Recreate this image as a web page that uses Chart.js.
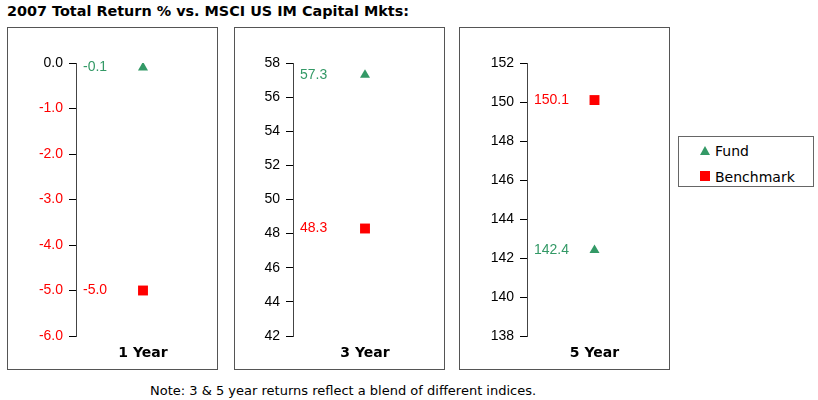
<!DOCTYPE html>
<html lang="en">
<head>
<meta charset="UTF-8" />
<script src="https://cdn.jsdelivr.net/npm/chart.js"></script>
<title>2007 Total Return</title>
<style>
  body { margin: 0; background: #fff; width: 818px; height: 400px; position: relative; overflow: hidden; font-family: "DejaVu Sans", Verdana, sans-serif; }
  #titulo { position: absolute; left: 7px; top: 3px; font-size: 14.4px; font-weight: bold; color: #000; white-space: nowrap; }
  .painel { position: absolute; top: 27px; width: 209px; height: 341px; border: 1px solid #555; }
  .painel div { position: relative; width: 209px; height: 341px; }
  #legenda { position: absolute; left: 678px; top: 136px; width: 134px; height: 49px; border: 1px solid #666; font-size: 14px; }
  .item { position: absolute; left: 36px; white-space: nowrap; line-height: 16px; }
  .tri { position: absolute; left: 21px; width: 0; height: 0; border-left: 5px solid transparent; border-right: 5px solid transparent; border-bottom: 9px solid #339966; }
  .quad { position: absolute; left: 21px; width: 10px; height: 10px; background: #ff0000; }
  #nota { position: absolute; left: 150px; top: 383px; font-size: 13px; white-space: nowrap; }
</style>
</head>
<body>
  <div id="titulo">2007 Total Return % vs. MSCI US IM Capital Mkts:</div>

  <div class="painel" style="left: 7px;"><div><canvas id="grafico0"></canvas></div></div>
  <div class="painel" style="left: 234px;"><div><canvas id="grafico1"></canvas></div></div>
  <div class="painel" style="left: 459px;"><div><canvas id="grafico2"></canvas></div></div>

  <div id="legenda">
    <span class="tri" style="top: 9px;"></span><span class="item" style="top: 6px;">Fund</span>
    <span class="quad" style="top: 34px;"></span><span class="item" style="top: 32px;">Benchmark</span>
  </div>

  <div id="nota">Note: 3 &amp; 5 year returns reflect a blend of different indices.</div>

<script>
  // valores
  const periodos = ["1 Year", "3 Year", "5 Year"];
  const retornoFundo = [-0.1, 57.3, 142.4];
  const retornoBenchmark = [-5.0, 48.3, 150.1];
  const eixoMin = [-6, 42, 138];
  const eixoMax = [0, 58, 152];
  const eixoPasso = [1, 2, 2];
  const casasDecimais = [1, 0, 0];

  const verde = "#339966";
  const vermelho = "#ff0000";
  const larguraEixo = [68, 58, 67];

  // escreve o valor de cada ponto a esquerda dele
  const rotulos = {
    id: "rotulos",
    afterDatasetsDraw(chart) {
      const ctx = chart.ctx;
      ctx.save();
      ctx.font = "14px 'Liberation Sans', Arial, sans-serif";
      ctx.textAlign = "left";
      ctx.textBaseline = "middle";
      chart.data.datasets.forEach((ds, i) => {
        chart.getDatasetMeta(i).data.forEach((pt, j) => {
          ctx.fillStyle = ds.borderColor;
          ctx.fillText(ds.data[j].toFixed(1), chart.chartArea.left + 7, pt.y);
        });
      });
      ctx.restore();
    }
  };

  function plotar(i) {
    const config = {
      type: "line",
      data: {
        labels: [periodos[i]],
        datasets: [
          {
            label: "Fund",
            data: [retornoFundo[i]],
            showLine: false,
            pointStyle: "triangle",
            pointRadius: 5.8,
            borderColor: verde,
            backgroundColor: verde,
            borderWidth: 0,
          },
          {
            label: "Benchmark",
            data: [retornoBenchmark[i]],
            showLine: false,
            pointStyle: "rect",
            pointRadius: 7,
            borderColor: vermelho,
            backgroundColor: vermelho,
            borderWidth: 0,
          },
        ],
      },
      options: {
        responsive: true,
        maintainAspectRatio: false,
        animation: false,
        events: [],
        layout: { padding: { top: 35, right: 1, bottom: 0, left: 0 } },
        scales: {
          x: {
            offset: true,
            grid: { display: false, drawTicks: false },
            border: { display: false },
            ticks: {
              color: "#000",
              padding: 9,
              font: { family: "'DejaVu Sans', Verdana, sans-serif", size: 14, weight: "bold" },
            },
            afterFit: (s) => { s.height = 33; },
          },
          y: {
            min: eixoMin[i],
            max: eixoMax[i],
            grid: { drawOnChartArea: false, color: "#000", tickLength: 7 },
            border: { color: "#444" },
            ticks: {
              stepSize: eixoPasso[i],
              padding: 6,
              font: { family: "'Liberation Sans', Arial, sans-serif", size: 14 },
              color: (c) => (c.tick.value < 0 ? vermelho : "#000"),
              callback: (v) => v.toFixed(casasDecimais[i]),
            },
            afterFit: (s) => { s.width = larguraEixo[i]; },
          },
        },
        plugins: {
          legend: { display: false },
          tooltip: { enabled: false },
        },
      },
      plugins: [rotulos],
    };

    new Chart(document.getElementById("grafico" + i).getContext("2d"), config);
  }

  for (let i = 0; i < periodos.length; i++) {
    plotar(i);
  }
</script>
</body>
</html>
